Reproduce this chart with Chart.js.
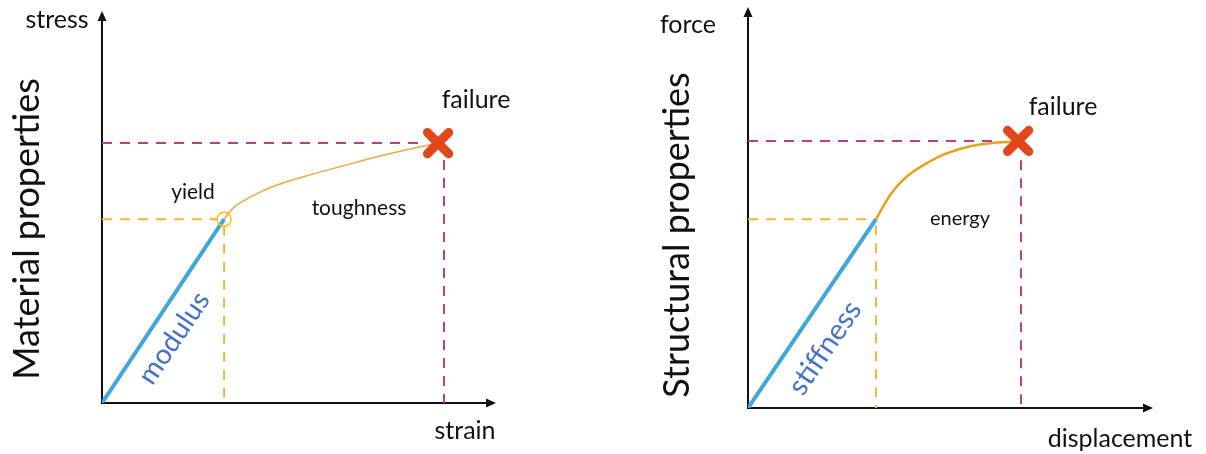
<!DOCTYPE html>
<html>
<head>
<meta charset="utf-8">
<script src="https://cdn.jsdelivr.net/npm/chart.js@4.4.0/dist/chart.umd.min.js"></script>
<style>
  body { margin: 0; background: #fff; }
  canvas { position: absolute; top: 0; }
  #left { left: 0; }
  #right { left: 603px; }
</style>
</head>
<body>
<canvas id="left" width="603" height="454"></canvas>
<canvas id="right" width="603" height="454"></canvas>
<script>
// material curve (stress vs strain), axes 0..100
const matLinearX = [0, 31.0];
const matLinearY = [0, 46.9];
const matCurveX = [31.0, 33.2, 35.8, 40.1, 44.4, 52.8, 61.2, 69.8, 78.2, 85.3];
const matCurveY = [46.9, 49.7, 51.5, 53.8, 55.6, 58.2, 60.5, 62.8, 64.8, 66.3];
const matYield = [31.0, 46.9];
const matFailure = [85.3, 66.3];

// structural curve (force vs displacement)
const strLinearX = [0, 31.6];
const strLinearY = [0, 47.1];
const strCurveX = [31.6, 35.1, 37.5, 40.7, 44.2, 48.1, 52.3, 56.5, 60.5, 65.2, 66.7];
const strCurveY = [47.1, 53.1, 56.1, 58.9, 61.1, 63.1, 64.6, 65.6, 66.1, 66.4, 66.6];
const strFailure = [66.7, 66.6];

const BLUE = '#3fa6de';
const TEXT_BLUE = '#4472c4';
const GOLD = '#f7b33b';
const MAGENTA = '#b2428c';
const XRED = '#e2461b';
const FONT = 'Lato, "Open Sans", sans-serif';

function pts(xs, ys) {
  return xs.map((x, i) => ({ x: x, y: ys[i] }));
}

function guides(pt, hEnd, vTop, color) {
  // dashed horizontal from y axis, dashed vertical down to x axis
  return [
    { data: [{ x: 0, y: pt[1] }, { x: hEnd, y: pt[1] }], borderColor: color },
    { data: [{ x: pt[0], y: vTop }, { x: pt[0], y: 0 }], borderColor: color }
  ].map(d => Object.assign(d, {
    showLine: true, borderWidth: 2, borderDash: [10, 8], pointRadius: 0, order: 5
  }));
}

const axesPlugin = {
  id: 'axes',
  beforeDatasetsDraw(chart) {
    const { ctx, chartArea: a } = chart;
    ctx.save();
    ctx.strokeStyle = '#111';
    ctx.fillStyle = '#111';
    ctx.lineWidth = 2;
    ctx.beginPath();
    ctx.moveTo(a.left, a.top + 6);
    ctx.lineTo(a.left, a.bottom);
    ctx.lineTo(a.right - 6, a.bottom);
    ctx.stroke();
    ctx.beginPath();
    ctx.moveTo(a.left, a.top);
    ctx.lineTo(a.left - 4.5, a.top + 10);
    ctx.lineTo(a.left + 4.5, a.top + 10);
    ctx.closePath();
    ctx.fill();
    ctx.beginPath();
    ctx.moveTo(a.right, a.bottom);
    ctx.lineTo(a.right - 10, a.bottom - 4.5);
    ctx.lineTo(a.right - 10, a.bottom + 4.5);
    ctx.closePath();
    ctx.fill();
    ctx.restore();
  },
  beforeDatasetDraw(chart, args) {
    chart.ctx.lineCap = 'round';
  },
  afterDraw(chart, args, opts) {
    const ctx = chart.ctx;
    (opts.labels || []).forEach(l => {
      ctx.save();
      ctx.translate(l.x, l.y);
      ctx.rotate((l.rot || 0) * Math.PI / 180);
      ctx.font = (l.size || 25) + 'px ' + FONT;
      ctx.fillStyle = l.color || '#111';
      ctx.textAlign = 'center';
      ctx.textBaseline = 'middle';
      ctx.fillText(l.text, 0, 0);
      ctx.restore();
    });
  }
};

function makeChart(id, padding, datasets, labels) {
  return new Chart(document.getElementById(id), {
    type: 'scatter',
    data: { datasets: datasets },
    options: {
      responsive: false,
      devicePixelRatio: 1,
      animation: false,
      layout: { padding: padding, autoPadding: false },
      scales: {
        x: { display: false, min: 0, max: 100 },
        y: { display: false, min: 0, max: 100 }
      },
      plugins: {
        legend: { display: false },
        tooltip: { enabled: false },
        axes: { labels: labels }
      }
    },
    plugins: [axesPlugin]
  });
}

makeChart('left', { left: 102, right: 107, top: 11, bottom: 51 }, [
  { data: [{ x: matFailure[0], y: matFailure[1] }], pointStyle: 'crossRot',
    pointRadius: 15, pointBorderWidth: 9, borderColor: XRED, backgroundColor: XRED, order: 0 },
  { data: [{ x: matYield[0], y: matYield[1] }], pointStyle: 'circle',
    pointRadius: 7, pointBorderWidth: 1.5, borderColor: '#ffc000', backgroundColor: 'rgba(0,0,0,0)', order: 1 },
  { data: pts(matLinearX, matLinearY), showLine: true, borderColor: BLUE,
    borderWidth: 4, pointRadius: 0, order: 2 },
  { data: pts(matCurveX, matCurveY), showLine: true, borderColor: '#f5a544',
    borderWidth: 1.5, pointRadius: 0, cubicInterpolationMode: 'monotone', order: 3 }
].concat(guides(matYield, 29.4, 45.2, GOLD), guides([86.8, 66.3], 80.7, 62.0, MAGENTA)), [
  { text: 'stress', x: 57, y: 20 },
  { text: 'Material properties', x: 27, y: 229, rot: -90, size: 36 },
  { text: 'failure', x: 476, y: 100 },
  { text: 'yield', x: 193, y: 192, size: 21 },
  { text: 'toughness', x: 359, y: 208, size: 21 },
  { text: 'modulus', x: 174, y: 338, rot: -56, size: 28, color: TEXT_BLUE },
  { text: 'strain', x: 465, y: 431 }
]);

makeChart('right', { left: 145, right: 53, top: 7, bottom: 46 }, [
  { data: [{ x: strFailure[0], y: strFailure[1] }], pointStyle: 'crossRot',
    pointRadius: 15, pointBorderWidth: 9, borderColor: XRED, backgroundColor: XRED, order: 0 },
  { data: pts(strLinearX, strLinearY), showLine: true, borderColor: BLUE,
    borderWidth: 4, pointRadius: 0, order: 2 },
  { data: pts(strCurveX, strCurveY), showLine: true, borderColor: '#e6a21c',
    borderWidth: 2.5, pointRadius: 0, cubicInterpolationMode: 'monotone', order: 3 }
].concat(guides([31.6, 47.1], 30.1, 45.6, GOLD), guides([67.4, 66.6], 62.2, 61.8, MAGENTA)), [
  { text: 'force', x: 85, y: 25 },
  { text: 'Structural properties', x: 74, y: 235, rot: -90, size: 36 },
  { text: 'failure', x: 460, y: 107 },
  { text: 'energy', x: 357, y: 219, size: 20 },
  { text: 'stiffness', x: 222, y: 348, rot: -55.7, size: 29, color: TEXT_BLUE },
  { text: 'displacement', x: 517, y: 439 }
]);
</script>
</body>
</html>
